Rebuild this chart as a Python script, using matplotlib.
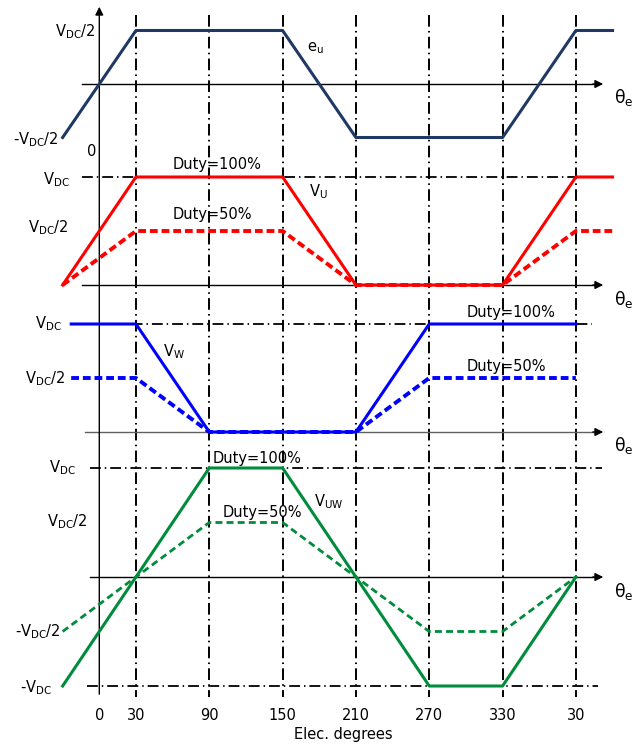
import matplotlib
matplotlib.use("Agg")
import matplotlib.pyplot as plt

# waveform data (values in units of VDC, angles in elec. degrees)
deg_eu = [-30, 30, 150, 210, 330, 390, 420]
eu = [-0.5, 0.5, 0.5, -0.5, -0.5, 0.5, 0.5]

deg_vu = [-30, 30, 150, 210, 330, 390, 420]
vu_100 = [0, 1, 1, 0, 0, 1, 1]
vu_50 = [0, 0.5, 0.5, 0, 0, 0.5, 0.5]

deg_vw = [-23, 30, 90, 210, 270, 390]
vw_100 = [1, 1, 0, 0, 1, 1]
vw_50 = [0.5, 0.5, 0, 0, 0.5, 0.5]

deg_vuw = [-30, 90, 150, 270, 330, 390]
vuw_100 = [-1, 1, 1, -1, -1, 0]
vuw_50 = [-0.5, 0.5, 0.5, -0.5, -0.5, 0]

grid_deg = [30, 90, 150, 210, 270, 330, 390]
tick_deg = [0, 30, 90, 150, 210, 270, 330, 390]
tick_txt = ['0', '30', '90', '150', '210', '270', '330', '30']

C_EU = '#1f3864'
C_U = '#ff0000'
C_W = '#0000ff'
C_UW = '#008c3c'

W, H = 641, 746
fig = plt.figure(figsize=(W / 100, H / 100), dpi=100)
ax = fig.add_axes([0, 0, 1, 1])
# x in degrees, y in pixel rows
X0, PX = 99.3, 1.222
ax.set_xlim(-X0 / PX, (W - X0) / PX)
ax.set_ylim(H, 0)
ax.axis('off')

def px(p):
    return (p - X0) / PX

fs = 10.5
dd = (0, (6, 2.2, 0.8, 2.2))
dashed = (0, (2, 1))

def row(base, scale, vals):
    return [base - scale * v for v in vals]

# panel baselines and scales (px)
P = {'eu': (84, 107), 'u': (285, 108), 'w': (432, 108), 'uw': (577, 109)}

# vertical grid lines
for d in grid_deg:
    ax.plot([d, d], [15, 697], color='k', lw=1.4, linestyle=dd, zorder=1)

# vertical axis
ax.annotate('', xy=(0, 4), xytext=(0, 697),
            arrowprops=dict(arrowstyle='-|>', color='k', lw=1, mutation_scale=12))

# horizontal axes
for key, x_start, col in [('eu', 82, 'k'), ('u', 82, 'k'), ('w', 85, '#606060'), ('uw', 90, 'k')]:
    b = P[key][0]
    ax.plot([px(x_start), px(597)], [b, b], color=col, lw=1, zorder=2)
    ax.annotate('', xy=(px(606), b), xytext=(px(590), b),
                arrowprops=dict(arrowstyle='-|>', color='k', lw=1, mutation_scale=12))
    ax.text(px(614), b + 14, r'θ$_{\rm e}$', fontsize=fs + 2, ha='left', va='center')

# horizontal dash-dot reference levels
b, s = P['u']
ax.plot([px(82), px(577)], [b - s, b - s], color='k', lw=1.3, linestyle=dd, zorder=1)
b, s = P['w']
ax.plot([px(71), px(592)], [b - s, b - s], color='k', lw=1.3, linestyle=dd, zorder=1)
b, s = P['uw']
ax.plot([px(90), px(602)], [b - s, b - s], color='k', lw=1.3, linestyle=dd, zorder=1)
ax.plot([px(87), px(598)], [b + s, b + s], color='k', lw=1.3, linestyle=dd, zorder=1)

# waveforms
b, s = P['eu']
ax.plot(deg_eu, row(b, s, eu), color=C_EU, lw=2.2, zorder=3)
b, s = P['u']
ax.plot(deg_vu, row(b, s, vu_100), color=C_U, lw=2.2, zorder=3)
ax.plot(deg_vu, row(b, s, vu_50), color=C_U, lw=2.8, linestyle=dashed, zorder=3)
b, s = P['w']
ax.plot(deg_vw, row(b, s, vw_100), color=C_W, lw=2.2, zorder=3)
ax.plot(deg_vw, row(b, s, vw_50), color=C_W, lw=2.8, linestyle=dashed, zorder=3)
b, s = P['uw']
ax.plot(deg_vuw, row(b, s, vuw_100), color=C_UW, lw=2.2, zorder=3)
ax.plot(deg_vuw, row(b, s, vuw_50), color=C_UW, lw=2.0, linestyle=(0, (2.5, 1.5)), zorder=3)

# left labels
VDC = r'V$_{\rm DC}$'
labels = [
    (95, 32, VDC + '/2'), (58, 140, '-' + VDC + '/2'), (96, 152, '0'),
    (70, 180, VDC), (68, 228, VDC + '/2'),
    (62, 324, VDC), (65, 379, VDC + '/2'),
    (76, 468, VDC), (87, 522, VDC + '/2'), (60, 632, '-' + VDC + '/2'), (52, 688, '-' + VDC),
]
for xp, yp, t in labels:
    ax.text(px(xp), yp, t, fontsize=fs, ha='right', va='center')

# curve annotations
notes = [
    (307, 48, r'e$_{\rm u}$'), (309, 192, r'V$_{\rm U}$'), (163, 352, r'V$_{\rm W}$'),
    (314, 502, r'V$_{\rm UW}$'),
    (173, 164, 'Duty=100%'), (173, 215, 'Duty=50%'),
    (467, 313, 'Duty=100%'), (467, 367, 'Duty=50%'),
    (213, 458, 'Duty=100%'), (223, 513, 'Duty=50%'),
]
for xp, yp, t in notes:
    ax.text(px(xp), yp, t, fontsize=fs, ha='left', va='center')

# bottom tick labels
for d, t in zip(tick_deg, tick_txt):
    ax.text(d, 715, t, fontsize=fs, ha='center', va='center')
ax.text(px(343), 735, 'Elec. degrees', fontsize=fs, ha='center', va='center')

fig.savefig('out.png', dpi=100)
